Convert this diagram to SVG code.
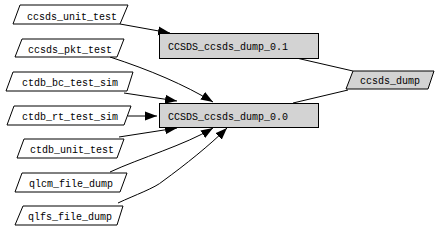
<svg xmlns="http://www.w3.org/2000/svg" width="445" height="229" viewBox="0 0 445 229">
<defs>
<style>
.n{fill:#ffffff;stroke:#000;stroke-width:1}
.g{fill:#d3d3d3;stroke:#000;stroke-width:1}
.t{font-family:"Liberation Mono","DejaVu Sans Mono",monospace;font-size:10px;fill:#000;text-anchor:middle}
.e{fill:none;stroke:#000;stroke-width:1}
</style>
<marker id="a" markerWidth="13" markerHeight="10" refX="12" refY="5" orient="auto" markerUnits="userSpaceOnUse">
<path d="M0,0.5 L12,5 L0,9.5 Z" fill="#000"/>
</marker>
</defs>
<rect width="445" height="229" fill="#fff"/>
<g id="edges">
<path class="e" d="M120,24 L170,33" marker-end="url(#a)"/>
<path class="e" d="M110,57 C150,70 185,85 213,102" marker-end="url(#a)"/>
<path class="e" d="M124,93 L177,101" marker-end="url(#a)"/>
<path class="e" d="M128,116 L157,116" marker-end="url(#a)"/>
<path class="e" d="M119,137 L177,128" marker-end="url(#a)"/>
<path class="e" d="M110,172 C140,158 185,145 213,128" marker-end="url(#a)"/>
<path class="e" d="M118,203 C135,195 155,188 163,181 C185,165 210,145 227,128" marker-end="url(#a)"/>
<path class="e" d="M292,57 L353,71"/>
<path class="e" d="M293,103 L348,90"/>
</g>
<g id="ccsds_unit_test"><polygon class="n" points="20,5 128,5 120,24 13,24"/><text class="t" x="72" y="20">ccsds_unit_test</text></g>
<g id="ccsds_pkt_test"><polygon class="n" points="22,39 124,39 117,57 15,57"/><text class="t" x="70" y="53">ccsds_pkt_test</text></g>
<g id="ctdb_bc_test_sim"><polygon class="n" points="13,72 133,72 127,91 6,91"/><text class="t" x="70" y="86">ctdb_bc_test_sim</text></g>
<g id="ctdb_rt_test_sim"><polygon class="n" points="14,106 131,106 124,125 7,125"/><text class="t" x="70" y="120">ctdb_rt_test_sim</text></g>
<g id="ctdb_unit_test"><polygon class="n" points="24,139 124,139 117,158 17,158"/><text class="t" x="72" y="153">ctdb_unit_test</text></g>
<g id="qlcm_file_dump"><polygon class="n" points="22,173 127,173 120,192 15,192"/><text class="t" x="71" y="187">qlcm_file_dump</text></g>
<g id="qlfs_file_dump"><polygon class="n" points="23,206 123,206 117,225 15,225"/><text class="t" x="70" y="220">qlfs_file_dump</text></g>
<g id="CCSDS_ccsds_dump_0.1"><rect class="g" x="159.5" y="33.5" width="159" height="25"/><text class="t" x="228" y="50">CCSDS_ccsds_dump_0.1</text></g>
<g id="CCSDS_ccsds_dump_0.0"><rect class="g" x="159.5" y="103.5" width="159" height="24"/><text class="t" x="228" y="120">CCSDS_ccsds_dump_0.0</text></g>
<g id="ccsds_dump"><polygon class="g" points="353,71 434,71 428,89 346,89"/><text class="t" x="390" y="84">ccsds_dump</text></g>
</svg>
